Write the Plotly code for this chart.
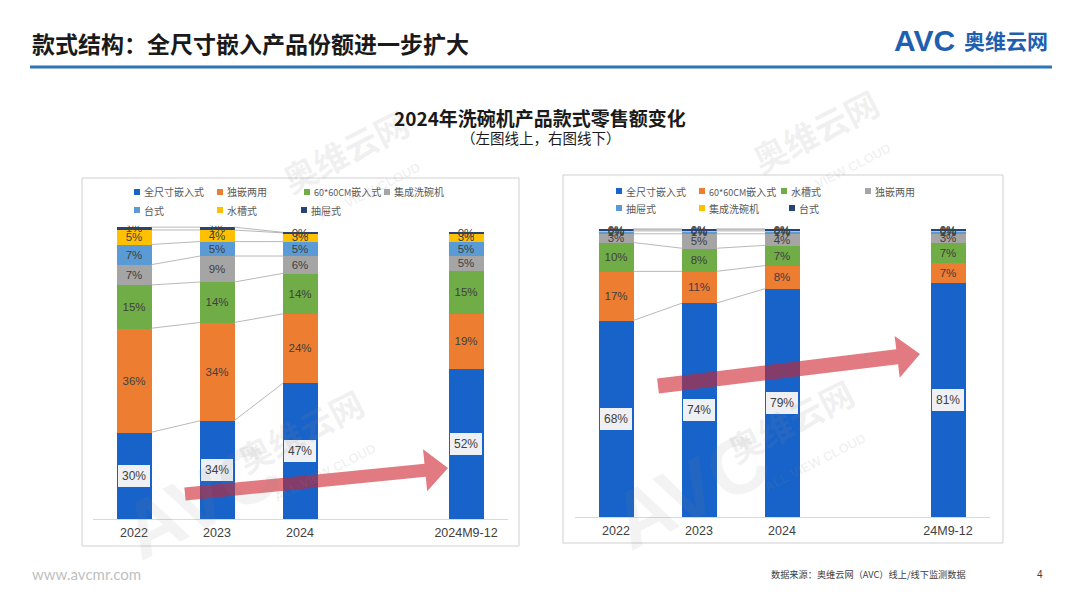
import math
import plotly.graph_objects as go

W, H = 1080, 608
OFF = 8  # page body margin of the browser page

# ---------------- data ----------------
left_categories = ["2022", "2023", "2024", "2024M9-12"]
left_series = ["全尺寸嵌入式", "独嵌两用", "60*60CM嵌入式", "集成洗碗机", "台式", "水槽式", "抽屉式"]
left_full_size = [30, 34, 47, 52]
left_dual_use = [36, 34, 24, 19]
left_6060 = [15, 14, 14, 15]
left_integrated = [7, 9, 6, 5]
left_countertop = [7, 5, 5, 5]
left_sink = [5, 4, 3, 3]
left_drawer = [1, 1, 0.2, 0.2]

right_categories = ["2022", "2023", "2024", "24M9-12"]
right_series = ["全尺寸嵌入式", "60*60CM嵌入式", "水槽式", "独嵌两用", "抽屉式", "集成洗碗机", "台式"]
right_full_size = [68, 74, 79, 81]
right_6060 = [17, 11, 8, 7]
right_sink = [10, 8, 7, 7]
right_dual_use = [3, 5, 4, 3]
right_drawer = [1, 1, 1, 1]
right_integrated = [0.4, 0.4, 0.4, 0.3]
right_countertop = [0.3, 0.3, 0.3, 0.3]

# ---------------- styles ----------------
COLORS = ["#1863C9", "#ED7D31", "#70AD47", "#A5A5A5", "#5B9BD5", "#FFC000", "#264478"]
CJK = "Noto Sans CJK SC"
NUM = "Liberation Sans"
TXT = "#404040"


def px(x):
    return (x - OFF) / W


def py(y):
    return 1 - (y - OFF) / H


def legend_text(name):
    # render Latin runs a touch smaller so the long label fits its column
    out, buf = "", ""
    for ch in name:
        if ord(ch) < 128:
            buf += ch
        else:
            if buf:
                out += f"<span style='font-size:9px'>{buf}</span>"
                buf = ""
            out += ch
    if buf:
        out += f"<span style='font-size:9px'>{buf}</span>"
    return out


fig = go.Figure()
annotations = []
shapes = []

BAR_W = 0.41


def add_panel(names, values, cats, xa, ya, leg_pos):
    xpos = [i if i < 3 else i + 1 for i in range(len(cats))]  # gap before last period
    for k, (name, vals) in enumerate(zip(names, values)):
        fig.add_trace(go.Bar(
            x=xpos, y=vals, name=name, width=BAR_W,
            marker=dict(color=COLORS[k], line=dict(width=0)),
            text=None if k == 0 else [f"{round(v)}%" for v in vals],
            textposition="inside", insidetextanchor="middle", constraintext="none",
            textfont=dict(size=11.5, color=TXT, family=NUM),
            xaxis=xa, yaxis=ya, showlegend=False, hoverinfo="skip",
        ))
    # labels for bottom series in light boxes
    for j, v in enumerate(values[0]):
        annotations.append(dict(
            x=xpos[j], y=v / 2, xref=xa, yref=ya, text=f"{round(v)}%", showarrow=False,
            xanchor="center", yanchor="middle",
            font=dict(size=12, color=TXT, family=NUM), bgcolor="#EEF0F3",
            borderwidth=0, borderpad=4,
        ))
    # connector lines between the first three bars
    cum = []
    for j in range(len(cats)):
        s, c = 0, []
        for vals in values:
            s += vals[j]
            c.append(s)
        cum.append(c)
    lx, ly = [], []
    for j in range(2):
        for k in range(len(values)):
            lx += [xpos[j] + BAR_W / 2, xpos[j + 1] - BAR_W / 2, None]
            ly += [cum[j][k], cum[j + 1][k], None]
    fig.add_trace(go.Scatter(x=lx, y=ly, mode="lines", line=dict(color="#A6A6A6", width=0.8),
                             xaxis=xa, yaxis=ya, showlegend=False, hoverinfo="skip"))
    # legend (small squares + text)
    for k, name in enumerate(names):
        lxp, lyp = leg_pos[k]
        shapes.append(dict(type="rect", xref="paper", yref="paper",
                           x0=px(lxp - 3), x1=px(lxp + 3), y0=py(lyp + 3), y1=py(lyp - 3),
                           fillcolor=COLORS[k], line=dict(width=0)))
        annotations.append(dict(x=px(lxp + 5), y=py(lyp), xref="paper", yref="paper",
                                xanchor="left", yanchor="middle", showarrow=False, text=legend_text(name),
                                font=dict(size=10, color="#595959", family=CJK)))
    return xpos


left_vals = [left_full_size, left_dual_use, left_6060, left_integrated, left_countertop, left_sink, left_drawer]
right_vals = [right_full_size, right_6060, right_sink, right_dual_use, right_drawer, right_integrated, right_countertop]

left_leg = [(137, 192), (220, 192), (307, 192), (387, 192), (137, 210), (220, 210), (304, 210)]
right_leg = [(619, 191), (702, 191), (784, 191), (868, 191), (619, 208), (702, 208), (792, 208)]

lx = add_panel(left_series, left_vals, left_categories, "x", "y", left_leg)
rx = add_panel(right_series, right_vals, right_categories, "x2", "y2", right_leg)

axis_common = dict(range=[-0.5, 4.5], showline=True, linecolor="#D9D9D9", linewidth=1,
                   showgrid=False, zeroline=False, ticks="", ticklabelstandoff=2,
                   tickfont=dict(size=12.5, color=TXT, family=NUM), fixedrange=True)
yaxis_common = dict(range=[0, 101.5], visible=False, showgrid=False, zeroline=False, fixedrange=True)

fig.update_layout(
    xaxis=dict(domain=[px(92.5), px(507.5)], tickvals=lx, ticktext=left_categories, anchor="y", **axis_common),
    yaxis=dict(domain=[py(519), py(225.7)], anchor="x", **yaxis_common),
    xaxis2=dict(domain=[px(574.5), px(989.5)], tickvals=rx, ticktext=right_categories, anchor="y2", **axis_common),
    yaxis2=dict(domain=[py(517), py(223.7)], anchor="x2", **yaxis_common),
)

# chart frames
for (x0, y0, x1, y1) in [(82, 178, 519, 546), (563, 175, 1003, 543)]:
    shapes.append(dict(type="rect", xref="paper", yref="paper", x0=px(x0), x1=px(x1),
                       y0=py(y1), y1=py(y0), line=dict(color="#D0D0D0", width=1),
                       fillcolor="rgba(0,0,0,0)", layer="below"))

# header rule
shapes.append(dict(type="line", xref="paper", yref="paper", x0=px(30), x1=px(1052),
                   y0=py(67), y1=py(67), line=dict(color="#2E75B6", width=3)))


# trend arrows (decorative)
def arrow(x0, y0, x1, y1, hw, headw, headl):
    dx, dy = x1 - x0, y1 - y0
    L = math.hypot(dx, dy)
    ux, uy = dx / L, dy / L
    nx, ny = -uy, ux
    bx, by = x1 - ux * headl, y1 - uy * headl
    pts = [(x0 + nx * hw, y0 + ny * hw), (bx + nx * hw, by + ny * hw), (bx + nx * headw, by + ny * headw),
           (x1, y1), (bx - nx * headw, by - ny * headw), (bx - nx * hw, by - ny * hw),
           (x0 - nx * hw, y0 - ny * hw)]
    path = "M " + " L ".join(f"{px(a):.5f},{py(b):.5f}" for a, b in pts) + " Z"
    return dict(type="path", path=path, xref="paper", yref="paper",
                fillcolor="rgba(205,35,45,0.6)", line=dict(width=0), layer="above")


shapes.append(arrow(185, 494, 448, 468, 6.5, 21, 23))
shapes.append(arrow(658, 386, 920, 354, 7.5, 21, 23))

# watermarks
WM = "rgba(140,140,140,0.12)"
for (wx, wy) in [(345, 150), (815, 130), (300, 430), (790, 420)]:
    annotations.append(dict(x=px(wx), y=py(wy), xref="paper", yref="paper", text="<b>奥维云网</b>",
                            xanchor="center", yanchor="middle",
                            showarrow=False, textangle=-27, font=dict(size=34, color=WM, family=CJK)))
    annotations.append(dict(x=px(wx + 25), y=py(wy + 42), xref="paper", yref="paper", text="<b>ALL VIEW CLOUD</b>",
                            xanchor="center", yanchor="middle",
                            showarrow=False, textangle=-27, font=dict(size=13, color=WM, family="Liberation Sans")))
for (wx, wy) in [(200, 500), (690, 490)]:
    annotations.append(dict(x=px(wx), y=py(wy), xref="paper", yref="paper", text="<b>AVC</b>",
                            xanchor="center", yanchor="middle",
                            showarrow=False, textangle=-27, font=dict(size=80, color="rgba(140,140,140,0.10)",
                                                                      family="Liberation Sans")))

# titles & texts
annotations += [
    dict(x=px(30), y=py(43), xref="paper", yref="paper", xanchor="left", yanchor="middle", showarrow=False,
         text="<b>款式结构：全尺寸嵌入产品份额进一步扩大</b>", font=dict(size=23, color="#1A1A1A", family=CJK)),
    dict(x=px(892), y=py(41), xref="paper", yref="paper", xanchor="left", yanchor="middle", showarrow=False,
         text="<b>AVC</b>", font=dict(size=30, color="#1F5FAF", family="Liberation Sans")),
    dict(x=px(962), y=py(40), xref="paper", yref="paper", xanchor="left", yanchor="middle", showarrow=False,
         text="<b>奥维云网</b>", font=dict(size=21, color="#1F5FAF", family=CJK)),
    dict(x=px(540), y=py(117), xref="paper", yref="paper", xanchor="center", yanchor="middle", showarrow=False,
         text="<b>2024年洗碗机产品款式零售额变化</b>", font=dict(size=19, color="#1A1A1A", family=CJK)),
    dict(x=px(541), y=py(137), xref="paper", yref="paper", xanchor="center", yanchor="middle", showarrow=False,
         text="（左图线上，右图线下）", font=dict(size=14.5, color="#1A1A1A", family=CJK)),
    dict(x=px(30), y=py(574), xref="paper", yref="paper", xanchor="left", yanchor="middle", showarrow=False,
         text="www.avcmr.com", font=dict(size=15, color="#BFBFBF", family="Lato")),
    dict(x=px(769), y=py(574), xref="paper", yref="paper", xanchor="left", yanchor="middle", showarrow=False,
         text="数据来源：奥维云网（AVC）线上/线下监测数据", font=dict(size=9.2, color=TXT, family=CJK)),
    dict(x=px(1040), y=py(574), xref="paper", yref="paper", xanchor="center", yanchor="middle", showarrow=False,
         text="4", font=dict(size=10, color=TXT, family="Liberation Sans")),
]

fig.update_layout(
    width=W, height=H, margin=dict(l=0, r=0, t=0, b=0),
    paper_bgcolor="white", plot_bgcolor="rgba(0,0,0,0)",
    barmode="stack", bargap=0, showlegend=False,
    annotations=annotations, shapes=shapes,
    font=dict(family=CJK),
)

fig.write_html("out.html")
